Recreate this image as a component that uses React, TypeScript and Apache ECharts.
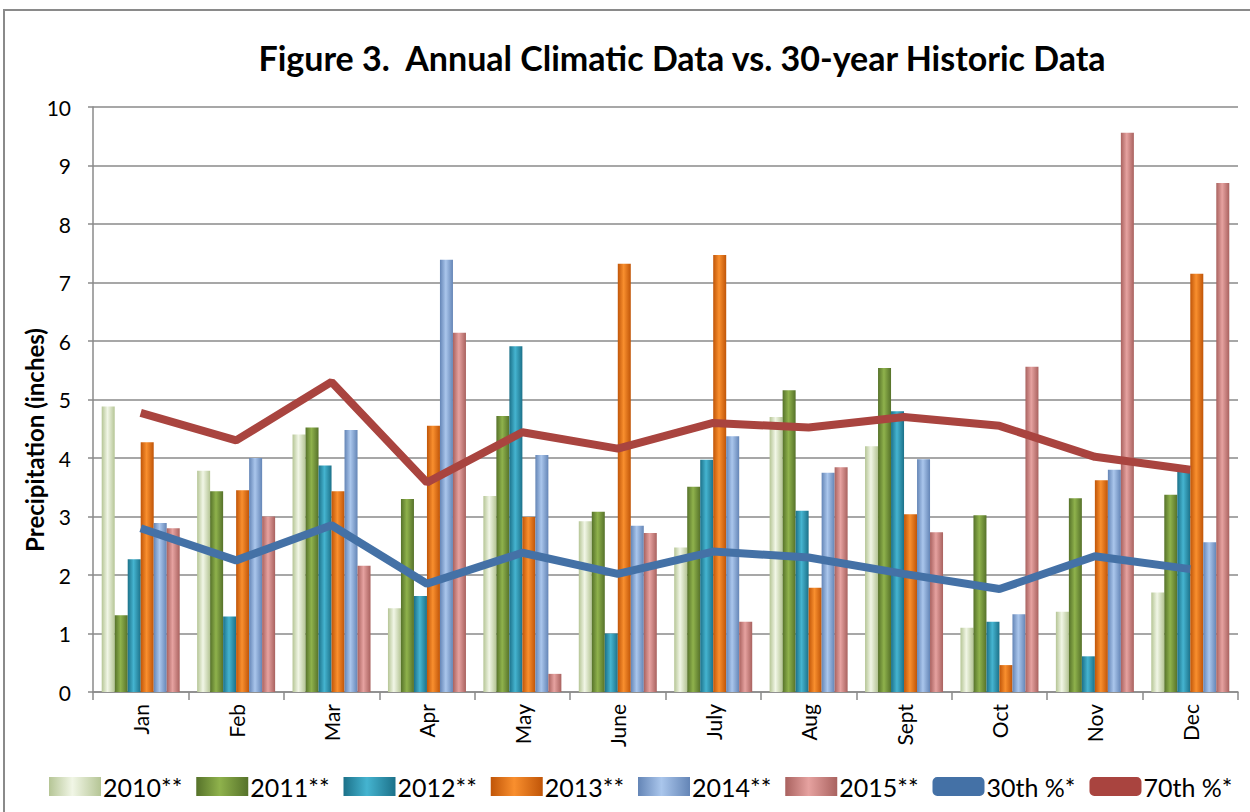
import React, { useEffect, useRef } from "react";
import * as echarts from "echarts";

const months = ["Jan", "Feb", "Mar", "Apr", "May", "June", "July", "Aug", "Sept", "Oct", "Nov", "Dec"];
const yTicks = [0, 1, 2, 3, 4, 5, 6, 7, 8, 9, 10];

const y2010 = [4.88, 3.78, 4.4, 1.43, 3.35, 2.92, 2.47, 4.7, 4.2, 1.1, 1.37, 1.7];
const y2011 = [1.31, 3.43, 4.52, 3.3, 4.72, 3.08, 3.51, 5.16, 5.54, 3.02, 3.31, 3.37];
const y2012 = [2.27, 1.29, 3.87, 1.64, 5.91, 1.0, 3.97, 3.1, 4.8, 1.2, 0.61, 3.78];
const y2013 = [4.27, 3.45, 3.43, 4.55, 2.99, 7.32, 7.47, 1.78, 3.04, 0.46, 3.62, 7.15];
const y2014 = [2.89, 4.0, 4.48, 7.39, 4.05, 2.84, 4.37, 3.75, 3.98, 1.33, 3.8, 2.56];
const y2015 = [2.8, 3.0, 2.16, 6.14, 0.31, 2.72, 1.2, 3.84, 2.73, 5.56, 9.56, 8.7];
const p30 = [2.8, 2.25, 2.85, 1.85, 2.38, 2.02, 2.4, 2.3, 2.02, 1.76, 2.32, 2.1];
const p70 = [4.77, 4.3, 5.3, 3.58, 4.44, 4.16, 4.6, 4.52, 4.7, 4.55, 4.02, 3.8];

const barSeries = [
  { name: "2010**", data: y2010, dark: "#b5c595", light: "#f1f6e6" },
  { name: "2011**", data: y2011, dark: "#56722a", light: "#8fb24c" },
  { name: "2012**", data: y2012, dark: "#1c7189", light: "#45b4d0" },
  { name: "2013**", data: y2013, dark: "#c05508", light: "#f98f2e" },
  { name: "2014**", data: y2014, dark: "#6485b6", light: "#aac6ec" },
  { name: "2015**", data: y2015, dark: "#a9625f", light: "#e6a2a0" },
];

const FONT = "Lato, 'Open Sans', sans-serif";

export default function App() {
  const ref = useRef<HTMLDivElement>(null);
  useEffect(() => {
    if (!ref.current) return;
    const chart = echarts.init(ref.current, undefined, { renderer: "svg" });
    const grad = (dark: string, light: string) =>
      new echarts.graphic.LinearGradient(0, 0, 1, 0, [
        { offset: 0, color: dark },
        { offset: 0.45, color: light },
        { offset: 1, color: dark },
      ]);
    const series: any[] = barSeries.map((s) => ({
      name: s.name,
      type: "bar",
      data: s.data,
      barWidth: 13,
      barGap: "0%",
      itemStyle: { color: grad(s.dark, s.light) },
      z: 2,
    }));
    series.push({
      name: "30th %*",
      type: "line",
      data: p30,
      symbol: "none",
      lineStyle: { color: "#4471a6", width: 8 },
      itemStyle: { color: "#4471a6" },
      z: 5,
    });
    series.push({
      name: "70th %*",
      type: "line",
      data: p70,
      symbol: "none",
      lineStyle: { color: "#a9443f", width: 8 },
      itemStyle: { color: "#a9443f" },
      z: 5,
    });
    chart.setOption({
      animation: false,
      textStyle: { fontFamily: FONT },
      grid: { left: 93, right: 12, top: 107, bottom: 120 },
      graphic: [
        {
          type: "rect",
          shape: { x: 4, y: 10, width: 1270, height: 830 },
          style: { fill: "none", stroke: "#8a8a8a", lineWidth: 2 },
          z: -1,
        },
        {
          type: "text",
          x: 682,
          y: 57,
          style: {
            text: "Figure 3.  Annual Climatic Data vs. 30-year Historic Data",
            fontFamily: FONT,
            fontSize: 34,
            fontWeight: "bold",
            fill: "#000",
            align: "center",
            verticalAlign: "middle",
          },
        },
        {
          type: "text",
          x: 34,
          y: 440,
          rotation: Math.PI / 2,
          style: {
            text: "Precipitation (inches)",
            fontFamily: FONT,
            fontSize: 24,
            fontWeight: "bold",
            fill: "#000",
            align: "center",
            verticalAlign: "middle",
          },
        },
      ],
      legend: {
        left: 44,
        top: 769,
        itemWidth: 52,
        itemHeight: 19,
        itemGap: 14,
        textStyle: { fontSize: 25, color: "#000", fontFamily: FONT, padding: [0, 0, 0, -3] },
        data: [
          ...barSeries.map((s) => ({ name: s.name, icon: "rect" })),
          { name: "30th %*", icon: "roundRect" },
          { name: "70th %*", icon: "roundRect" },
        ],
      },
      xAxis: {
        type: "category",
        data: months,
        axisLine: { lineStyle: { color: "#8a8a8a", width: 1.5 } },
        axisTick: { show: true, length: 8, lineStyle: { color: "#8a8a8a", width: 1.5 } },
        axisLabel: { rotate: 90, fontSize: 21, color: "#000", margin: 12, fontFamily: FONT },
      },
      yAxis: {
        type: "value",
        min: yTicks[0],
        max: yTicks[yTicks.length - 1],
        interval: 1,
        axisLine: { show: true, lineStyle: { color: "#8a8a8a", width: 1.5 } },
        axisTick: { show: true, length: 5, lineStyle: { color: "#8a8a8a", width: 1.5 } },
        axisLabel: { fontSize: 21, color: "#000", margin: 22, fontFamily: FONT },
        splitLine: { lineStyle: { color: "#8a8a8a", width: 1.5 } },
      },
      series,
    });
    return () => chart.dispose();
  }, []);
  return (
    <div
      ref={ref}
      style={{ position: "fixed", left: 0, top: 0, width: 1250, height: 812, background: "#fff" }}
    />
  );
}
